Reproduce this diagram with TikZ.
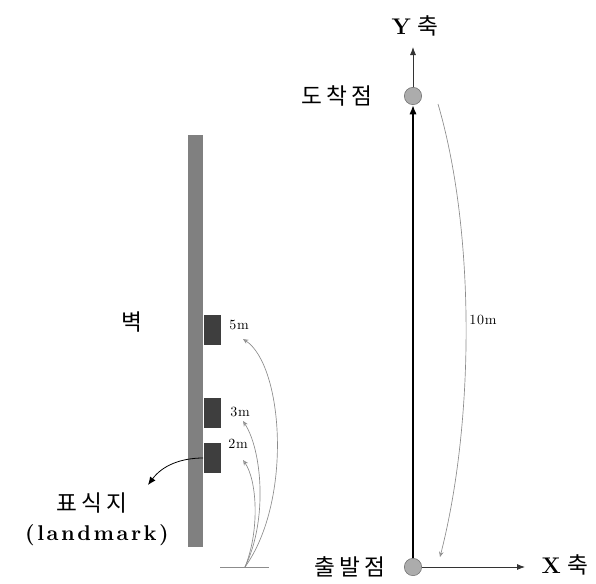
\documentclass[tikz,border=0pt]{standalone}
\usepackage{fontspec}
\newfontfamily\kr{Noto Sans CJK KR}
\newfontfamily\lmwide{lmroman10-bold}[Extension=.otf, LetterSpace=12]
\newfontfamily\lmspaced{lmroman10-regular}[Extension=.otf, LetterSpace=5]
\definecolor{wallGray}{RGB}{128,128,128}
\definecolor{markGray}{RGB}{62,62,62}
\definecolor{lineGray}{RGB}{140,140,140}
\usetikzlibrary{arrows.meta}

\begin{document}
\begin{tikzpicture}[x=0.75pt, y=-0.75pt,
  wall/.style={rectangle, fill=wallGray, inner sep=0pt,
               minimum width=11.25pt, minimum height=309pt},
  lmbox/.style={rectangle, fill=markGray, inner sep=0pt,
                minimum width=12.75pt, minimum height=22.5pt},
  spot/.style={circle, draw=gray!85!black, fill=gray!65, inner sep=0pt,
               minimum size=13pt},
  route/.style={-{Latex[length=7pt, width=5.5pt]}, line width=2pt},
  axis/.style={-{Latex[length=6pt, width=4.5pt]}, line width=0.6pt, black!80},
  dist/.style={{Stealth[length=4pt, width=3.5pt, open]}-, lineGray, line width=0.5pt},
  kor/.style={font=\kr\fontsize{17}{20}\selectfont\addfontfeature{LetterSpace=18}},
  big/.style={font=\fontsize{17}{20}\selectfont},
  small/.style={font=\lmspaced\fontsize{10.5}{12}\selectfont},
]
  \useasboundingbox (0,0) rectangle (596,583);

  \node[wall] (wall) at (195.5,341) {};
  \node[lmbox] (lm5) at (212,329.5) {};
  \node[lmbox] (lm3) at (212,413) {};
  \node[lmbox] (lm2) at (212,458) {};

  \node[spot] (start) at (413,567) {};
  \node[spot] (goal) at (413,96) {};
  \coordinate (ytip) at (413,47);
  \coordinate (xtip) at (525,567);

  \node[kor] (goallab) at (337,96) {도착점};
  \node[kor] (startlab) at (350,567) {출발점};
  \node[big] (ylab) at (415,26) {\textbf{Y}\ {\kr 축}};
  \node[big] (xlab) at (565,565) {\textbf{X}\ {\kr 축}};
  \node[kor] (walllab) at (132,322) {벽};
  \node[kor] (lmlab) at (92,503) {표식지};
  \node[font=\lmwide\fontsize{16}{18}\selectfont] (lmlab2) at (97,535) {(landmark)};

  \draw[route] (start) -- (goal);
  \draw[axis] (goal) -- (ytip);
  \draw[axis] (start) -- (xtip);

  \coordinate (g0) at (245,567);
  \coordinate (gl) at (220,567);
  \coordinate (gr) at (269,567);
  \coordinate (d5) at (243,339);
  \coordinate (d3) at (243,421);
  \coordinate (d2) at (243,460);
  \coordinate (t10) at (438,104);
  \coordinate (b10) at (440,557);
  \coordinate (lmtip) at (148,485);

  \draw[lineGray, line width=0.5pt] (gl) -- (gr);
  \draw[dist] (d5) .. controls (283,365) and (293,500) .. (g0);
  \draw[dist] (d3) .. controls (262,450) and (268,520) .. (g0);
  \draw[dist] (d2) .. controls (257,480) and (260,530) .. (g0);
  \draw[dist, -{Stealth[length=4pt, width=3.5pt, open]}] (t10) .. controls (475,230) and (475,420) .. (b10);

  \node[small] (l5) at (239,325) {5m};
  \node[small] (l3) at (240,412) {3m};
  \node[small] (l2) at (238,444) {2m};
  \node[small] (l10) at (483,320) {10m};

  \draw[-{Latex[length=6pt, width=5pt]}, line width=0.6pt] (lm2.west) .. controls (180,458) and (162,466) .. (lmtip);
\end{tikzpicture}
\end{document}
